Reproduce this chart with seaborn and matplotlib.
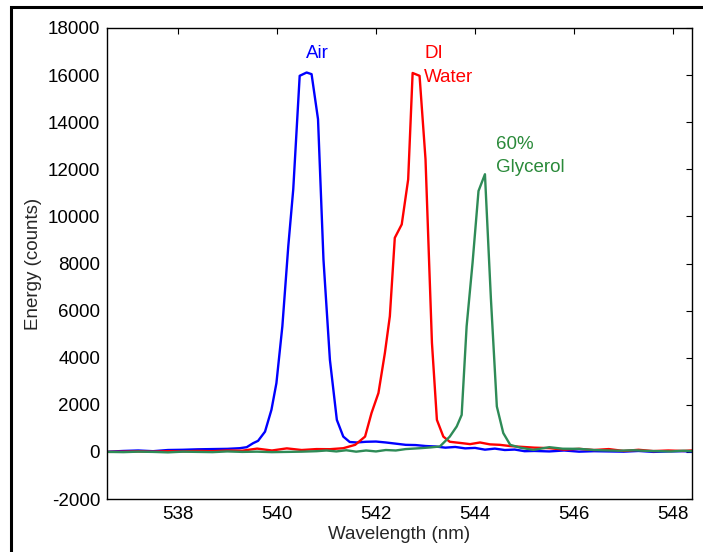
import pandas as pd
import seaborn as sns
import matplotlib
matplotlib.use("Agg")
import matplotlib.pyplot as plt
from matplotlib.patches import Rectangle

# spectra
air_wl = [536.6, 536.9, 537.2, 537.5, 537.8, 538.1, 538.4, 538.7, 539.0, 539.25,
          539.39, 539.52, 539.62, 539.76, 539.89, 539.99, 540.11, 540.23, 540.33, 540.46,
          540.60, 540.70, 540.83, 540.94, 541.07, 541.21, 541.34, 541.47, 541.61, 541.8,
          542.0, 542.2, 542.4, 542.6, 542.8, 543.0, 543.2, 543.4, 543.6, 543.8,
          544.0, 544.2, 544.4, 544.6, 544.8, 545.0, 545.2, 545.5, 545.8, 546.1,
          546.4, 546.7, 547.0, 547.3, 547.6, 547.9, 548.2, 548.4]
air_counts = [10, 40, 60, 30, 80, 90, 110, 120, 130, 157,
              200, 370, 470, 860, 1790, 2920, 5330, 8740, 11150, 15970,
              16110, 16040, 14130, 8170, 3910, 1360, 650, 420, 400, 430,
              440, 400, 350, 300, 290, 250, 230, 180, 210, 150,
              170, 95, 140, 80, 100, 30, 40, 20, 60, 10,
              30, 20, 10, 40, 0, 20, 30, 10]

water_wl = [536.6, 536.9, 537.2, 537.5, 537.8, 538.1, 538.4, 538.7, 539.0, 539.3,
            539.6, 539.9, 540.2, 540.5, 540.8, 541.07, 541.34, 541.58, 541.78, 541.91,
            542.05, 542.18, 542.28, 542.38, 542.52, 542.65, 542.74, 542.88, 543.00, 543.13,
            543.23, 543.36, 543.49, 543.7, 543.9, 544.1, 544.3, 544.5, 544.7, 544.9,
            545.2, 545.5, 545.8, 546.1, 546.4, 546.7, 547.0, 547.3, 547.6, 547.9,
            548.2, 548.4]
water_counts = [0, 10, 20, 10, 30, 20, 40, 30, 60, 50,
                140, 60, 150, 80, 120, 115, 157, 300, 650, 1650,
                2500, 4200, 5760, 9090, 9660, 11570, 16090, 15970, 12430, 4630,
                1360, 650, 430, 380, 330, 400, 320, 300, 250, 220,
                180, 160, 95, 130, 80, 120, 40, 90, 35, 60,
                40, 65]

glyc_wl = [536.6, 536.9, 537.2, 537.5, 537.8, 538.1, 538.4, 538.7, 539.0, 539.3,
           539.6, 539.9, 540.2, 540.5, 540.8, 541.0, 541.2, 541.4, 541.6, 541.8,
           542.0, 542.2, 542.4, 542.6, 542.89, 543.1, 543.29, 543.49, 543.63, 543.73,
           543.83, 543.95, 544.07, 544.20, 544.32, 544.44, 544.57, 544.71, 544.91, 545.18,
           545.5, 545.77, 546.1, 546.4, 546.6, 546.9, 547.2, 547.5, 547.96, 548.2,
           548.4]
glyc_counts = [0, -10, 10, 0, -20, 10, 0, -10, 20, 0,
               10, -10, 0, 10, 30, 60, 20, 70, 10, 60,
               20, 80, 60, 120, 157, 190, 230, 650, 1080, 1570,
               5330, 8030, 11080, 11790, 6520, 1930, 800, 300, 180, 85,
               200, 135, 130, 80, 65, 50, 70, 40, 20, 50,
               30]

x_ticks = [538, 540, 542, 544, 546, 548]
y_ticks = list(range(-2000, 18001, 2000))

df = pd.concat([
    pd.DataFrame({"wl": air_wl, "counts": air_counts, "sample": "Air"}),
    pd.DataFrame({"wl": water_wl, "counts": water_counts, "sample": "DI Water"}),
    pd.DataFrame({"wl": glyc_wl, "counts": glyc_counts, "sample": "60% Glycerol"}),
])

sns.set_style("white")
plt.rcParams["font.family"] = ["Liberation Sans", "DejaVu Sans"]
plt.rcParams["axes.unicode_minus"] = False

fig = plt.figure(figsize=(7.03, 5.52), dpi=100)
ax = fig.add_axes([107 / 703, 1 - 499 / 552, 585 / 703, 471 / 552])

palette = {"Air": "#0000ff", "DI Water": "#ff0000", "60% Glycerol": "#2e8b57"}
sns.lineplot(data=df, x="wl", y="counts", hue="sample", palette=palette,
             sort=False, estimator=None, linewidth=1.7, legend=False, ax=ax)

ax.set_xlim(536.57, 548.38)
ax.set_ylim(-2000, 18000)
ax.set_xticks(x_ticks)
ax.set_yticks(y_ticks)
ax.tick_params(direction="in", length=4, width=0.8, top=True, right=True,
               labelsize=13.5, pad=5, colors="black")
for s in ax.spines.values():
    s.set_visible(True)
    s.set_color("black")
    s.set_linewidth(1.0)

ax.set_xlabel("Wavelength (nm)", fontsize=13.5, labelpad=2)
ax.set_ylabel("Energy (counts)", fontsize=13.5, labelpad=4)

ax.text(540.82, 16900, "Air", color="#0000ff", fontsize=13.5, ha="center", va="center")
ax.text(542.97, 16900, "DI", color="#ff0000", fontsize=13.5, ha="left", va="center")
ax.text(542.97, 15900, "Water", color="#ff0000", fontsize=13.5, ha="left", va="center")
ax.text(544.42, 13060, "60%", color="#2a8a3a", fontsize=13.5, ha="left", va="center")
ax.text(544.42, 12080, "Glycerol", color="#2a8a3a", fontsize=13.5, ha="left", va="center")

# outer frame around the figure
fig.patches.append(Rectangle((11 / 703, -0.1), 1.2, 1.1 - 7 / 552, transform=fig.transFigure,
                             fill=False, edgecolor="black", linewidth=2.2, clip_on=False))

fig.savefig("out.png", dpi=100)
